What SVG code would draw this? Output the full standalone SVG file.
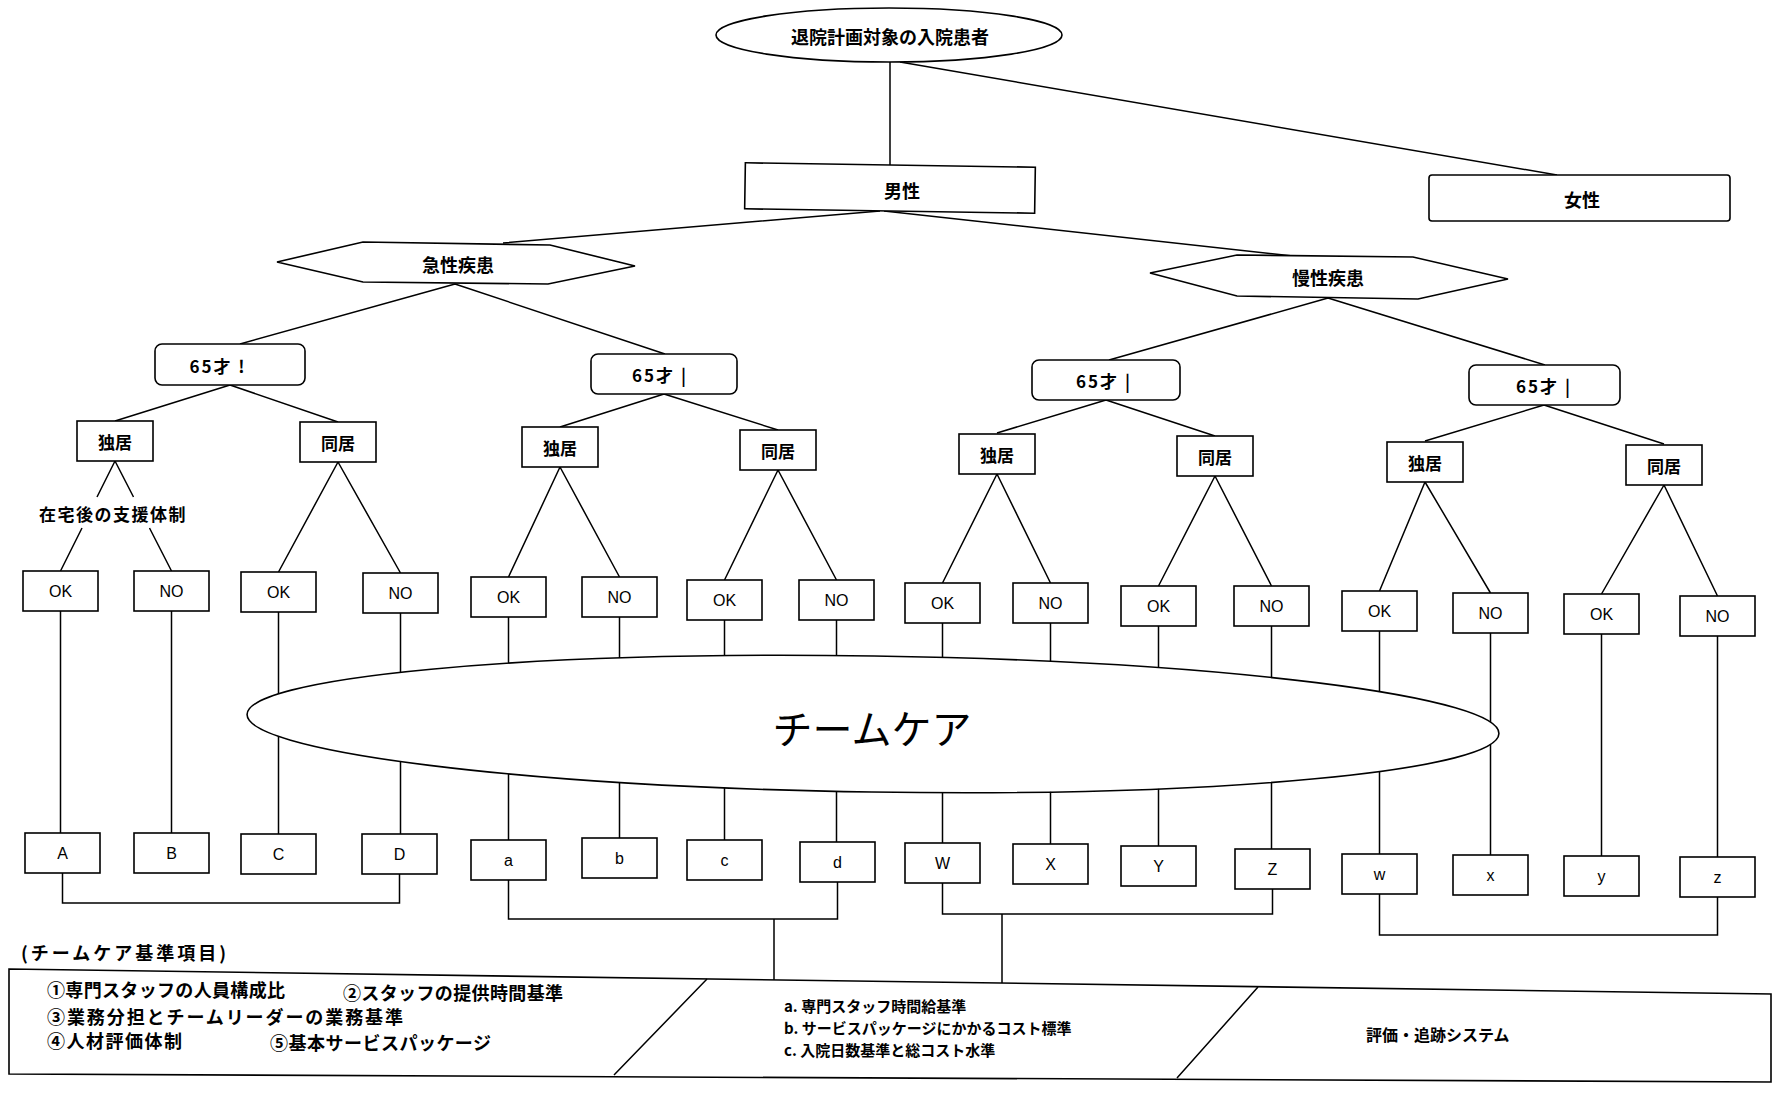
<svg xmlns="http://www.w3.org/2000/svg" width="1774" height="1097" viewBox="0 0 1774 1097">
<style>
.n{fill:#fff;stroke:#000;stroke-width:1.6}
.c{fill:none;stroke:#000;stroke-width:1.5}
.j{font-family:'Noto Sans CJK JP',sans-serif;font-weight:700;fill:#000;text-anchor:middle;dominant-baseline:central}
.js{font-family:'Noto Sans CJK JP',sans-serif;font-weight:700;fill:#000;text-anchor:start;dominant-baseline:central}
.l{font-family:'Liberation Sans',sans-serif;font-size:16px;fill:#000;text-anchor:middle;dominant-baseline:central}
.age{font-size:17px;letter-spacing:2px}
</style>
<rect width="1774" height="1097" fill="#fff"/>
<g id="connectors">
<path class="c" d="M890,62V165M900,62L1557,175M880,211L503,243M884,211L1293,256"/>
<path class="c" d="M455,284L240,344M455,284L665,354M1328,298L1109,360M1328,298L1545,365"/>
<path class="c" d="M230,385L115,421M230,385L338,422M664,394L560,427M664,394L778,430M1106,400L997,433M1106,400L1215,436M1544,405L1425,441M1544,405L1664,444"/>
<path class="c" d="M115,461L97,497M82,528L60.5,571M115,461L133.5,497M149.5,528L171.5,571"/>
<path class="c" d="M338,462L278.5,572M338,462L400.5,573M560,467L508.5,577M560,467L619.5,577M778,470L724.5,580M778,470L836.5,580M997,474L942.5,583M997,474L1050.5,583M1215,476L1158.5,586M1215,476L1271.5,586M1425,482L1379.5,591M1425,482L1490.5,593M1664,485L1601.5,594M1664,485L1717.5,596"/>
<path class="c" d="M60.5,611V833M171.5,611V833M278.5,612V834M400.5,613V834M508.5,617V840M619.5,617V838M724.5,620V840M836.5,620V842M942.5,623V843M1050.5,623V844M1158.5,626V846M1271.5,626V849M1379.5,631V854M1490.5,633V855M1601.5,634V856M1717.5,636V857"/>
<path class="c" d="M62.5,873V903H399.5V874M508.5,880V919H837.5V882M774,919V980M942.5,883V914H1272.5V889M1002,914V983M1379.5,894V935H1717.5V897"/>
</g>
<g id="root"><ellipse class="n" cx="889" cy="35" rx="173" ry="27"/><text class="j" x="890" y="36" font-size="18">退院計画対象の入院患者</text></g>
<g id="male"><rect class="n" x="745" y="165" width="290" height="46" transform="rotate(0.87 890 188)"/><text class="j" x="902" y="190" font-size="18">男性</text></g>
<g id="female"><rect class="n" x="1429" y="175" width="301" height="46" rx="3"/><text class="j" x="1582" y="199" font-size="18">女性</text></g>
<g id="acute"><polygon class="n" points="277,262 363,242 550,245 635,266 548,284 363,282"/><text class="j" x="458" y="264" font-size="18">急性疾患</text></g>
<g id="chronic"><polygon class="n" points="1150,273 1237,255 1413,257 1508,279 1418,299 1237,296"/><text class="j" x="1328" y="277" font-size="18">慢性疾患</text></g>
<g id="age1"><rect class="n" x="155" y="344" width="150" height="41" rx="7"/><text class="j age" x="218" y="365">65才 !</text></g>
<g id="age2"><rect class="n" x="591" y="354" width="146" height="40" rx="7"/><text class="j age" x="660" y="374">65才 |</text></g>
<g id="age3"><rect class="n" x="1032" y="360" width="148" height="40" rx="7"/><text class="j age" x="1104" y="380">65才 |</text></g>
<g id="age4"><rect class="n" x="1469" y="365" width="151" height="40" rx="7"/><text class="j age" x="1544" y="385">65才 |</text></g>
<g id="live1"><rect class="n" x="77" y="421" width="76" height="40"/><text class="j" x="115" y="441" font-size="17">独居</text></g>
<g id="live2"><rect class="n" x="300" y="422" width="76" height="40"/><text class="j" x="338" y="442" font-size="17">同居</text></g>
<g id="live3"><rect class="n" x="522" y="427" width="76" height="40"/><text class="j" x="560" y="447" font-size="17">独居</text></g>
<g id="live4"><rect class="n" x="740" y="430" width="76" height="40"/><text class="j" x="778" y="450" font-size="17">同居</text></g>
<g id="live5"><rect class="n" x="959" y="434" width="76" height="40"/><text class="j" x="997" y="454" font-size="17">独居</text></g>
<g id="live6"><rect class="n" x="1177" y="436" width="76" height="40"/><text class="j" x="1215" y="456" font-size="17">同居</text></g>
<g id="live7"><rect class="n" x="1387" y="442" width="76" height="40"/><text class="j" x="1425" y="462" font-size="17">独居</text></g>
<g id="live8"><rect class="n" x="1626" y="445" width="76" height="40"/><text class="j" x="1664" y="465" font-size="17">同居</text></g>
<g id="support-label"><text class="j" x="113" y="513" font-size="17" letter-spacing="1.5">在宅後の支援体制</text></g>
<g id="ok1"><rect class="n" x="23" y="571" width="75" height="40"/><text class="l" x="60.5" y="591">OK</text></g>
<g id="no1"><rect class="n" x="134" y="571" width="75" height="40"/><text class="l" x="171.5" y="591">NO</text></g>
<g id="ok2"><rect class="n" x="241" y="572" width="75" height="40"/><text class="l" x="278.5" y="592">OK</text></g>
<g id="no2"><rect class="n" x="363" y="573" width="75" height="40"/><text class="l" x="400.5" y="593">NO</text></g>
<g id="ok3"><rect class="n" x="471" y="577" width="75" height="40"/><text class="l" x="508.5" y="597">OK</text></g>
<g id="no3"><rect class="n" x="582" y="577" width="75" height="40"/><text class="l" x="619.5" y="597">NO</text></g>
<g id="ok4"><rect class="n" x="687" y="580" width="75" height="40"/><text class="l" x="724.5" y="600">OK</text></g>
<g id="no4"><rect class="n" x="799" y="580" width="75" height="40"/><text class="l" x="836.5" y="600">NO</text></g>
<g id="ok5"><rect class="n" x="905" y="583" width="75" height="40"/><text class="l" x="942.5" y="603">OK</text></g>
<g id="no5"><rect class="n" x="1013" y="583" width="75" height="40"/><text class="l" x="1050.5" y="603">NO</text></g>
<g id="ok6"><rect class="n" x="1121" y="586" width="75" height="40"/><text class="l" x="1158.5" y="606">OK</text></g>
<g id="no6"><rect class="n" x="1234" y="586" width="75" height="40"/><text class="l" x="1271.5" y="606">NO</text></g>
<g id="ok7"><rect class="n" x="1342" y="591" width="75" height="40"/><text class="l" x="1379.5" y="611">OK</text></g>
<g id="no7"><rect class="n" x="1453" y="593" width="75" height="40"/><text class="l" x="1490.5" y="613">NO</text></g>
<g id="ok8"><rect class="n" x="1564" y="594" width="75" height="40"/><text class="l" x="1601.5" y="614">OK</text></g>
<g id="no8"><rect class="n" x="1680" y="596" width="75" height="40"/><text class="l" x="1717.5" y="616">NO</text></g>
<g id="teamcare"><ellipse class="n" cx="873" cy="724" rx="626" ry="68" transform="rotate(0.87 873 724)"/><text x="872" y="727" font-family="'Noto Sans CJK JP',sans-serif" font-size="40" text-anchor="middle" dominant-baseline="central">チームケア</text></g>
<g id="rA"><rect class="n" x="25" y="833" width="75" height="40"/><text class="l" x="62.5" y="853">A</text></g>
<g id="rB"><rect class="n" x="134" y="833" width="75" height="40"/><text class="l" x="171.5" y="853">B</text></g>
<g id="rC"><rect class="n" x="241" y="834" width="75" height="40"/><text class="l" x="278.5" y="854">C</text></g>
<g id="rD"><rect class="n" x="362" y="834" width="75" height="40"/><text class="l" x="399.5" y="854">D</text></g>
<g id="ra"><rect class="n" x="471" y="840" width="75" height="40"/><text class="l" x="508.5" y="860">a</text></g>
<g id="rb"><rect class="n" x="582" y="838" width="75" height="40"/><text class="l" x="619.5" y="858">b</text></g>
<g id="rc"><rect class="n" x="687" y="840" width="75" height="40"/><text class="l" x="724.5" y="860">c</text></g>
<g id="rd"><rect class="n" x="800" y="842" width="75" height="40"/><text class="l" x="837.5" y="862">d</text></g>
<g id="rW"><rect class="n" x="905" y="843" width="75" height="40"/><text class="l" x="942.5" y="863">W</text></g>
<g id="rX"><rect class="n" x="1013" y="844" width="75" height="40"/><text class="l" x="1050.5" y="864">X</text></g>
<g id="rY"><rect class="n" x="1121" y="846" width="75" height="40"/><text class="l" x="1158.5" y="866">Y</text></g>
<g id="rZ"><rect class="n" x="1235" y="849" width="75" height="40"/><text class="l" x="1272.5" y="869">Z</text></g>
<g id="rw"><rect class="n" x="1342" y="854" width="75" height="40"/><text class="l" x="1379.5" y="874">w</text></g>
<g id="rx"><rect class="n" x="1453" y="855" width="75" height="40"/><text class="l" x="1490.5" y="875">x</text></g>
<g id="ry"><rect class="n" x="1564" y="856" width="75" height="40"/><text class="l" x="1601.5" y="876">y</text></g>
<g id="rz"><rect class="n" x="1680" y="857" width="75" height="40"/><text class="l" x="1717.5" y="877">z</text></g>
<g id="criteria">
<text class="js" x="21" y="952" font-size="18" letter-spacing="3">(チームケア基準項目)</text>
<polygon class="n" points="9,969 1771,994 1771,1082 9,1074"/>
<path class="c" d="M707,979L614,1075M1258,987L1177,1078"/>
<text class="js" x="47" y="989" font-size="18" textLength="238" lengthAdjust="spacing">①専門スタッフの人員構成比</text>
<text class="js" x="343" y="992" font-size="18" textLength="220" lengthAdjust="spacing">②スタッフの提供時間基準</text>
<text class="js" x="47" y="1016" font-size="18" textLength="356" lengthAdjust="spacing">③業務分担とチームリーダーの業務基準</text>
<text class="js" x="47" y="1040" font-size="18" textLength="135" lengthAdjust="spacing">④人材評価体制</text>
<text class="js" x="270" y="1042" font-size="18" textLength="221" lengthAdjust="spacing">⑤基本サービスパッケージ</text>
<text class="js" x="784" y="1005" font-size="15">a. 専門スタッフ時間給基準</text>
<text class="js" x="784" y="1027" font-size="15">b. サービスパッケージにかかるコスト標準</text>
<text class="js" x="784" y="1049" font-size="15">c. 入院日数基準と総コスト水準</text>
<text class="js" x="1366" y="1034" font-size="16">評価・追跡システム</text>
</g>
</svg>
